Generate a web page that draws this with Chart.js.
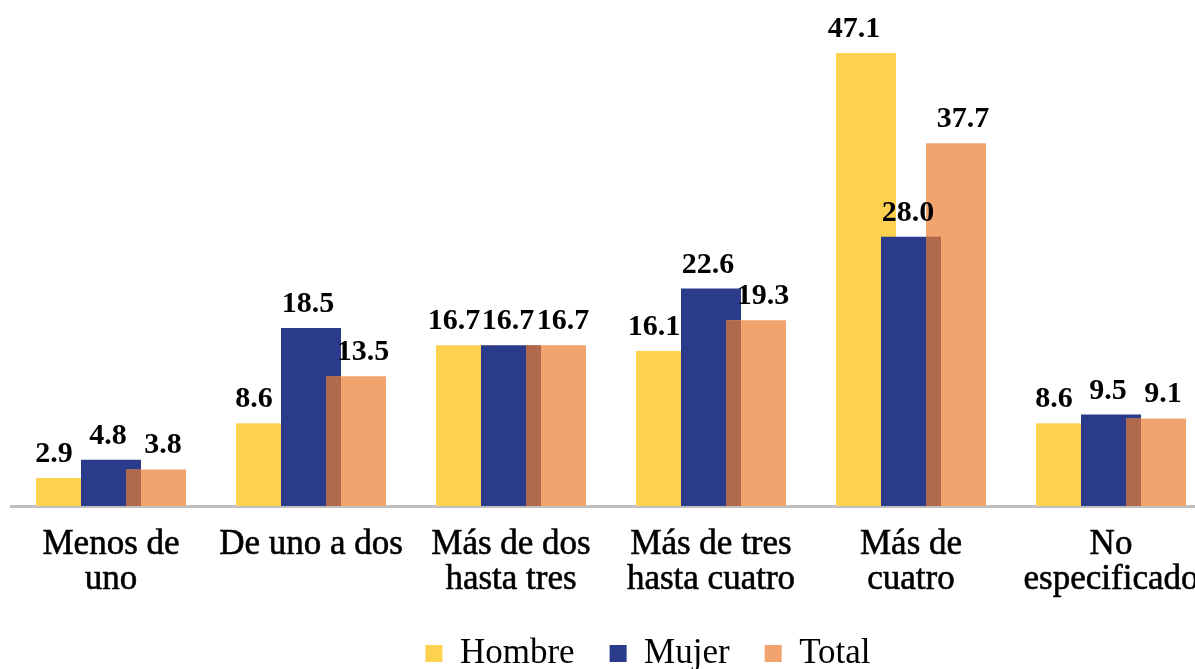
<!DOCTYPE html>
<html>
<head>
<meta charset="utf-8">
<script src="https://cdn.jsdelivr.net/npm/chart.js@4.4.1/dist/chart.umd.min.js"></script>
<style>
  html, body { margin: 0; padding: 0; background: #fff; overflow: hidden; }
  #wrap { width: 1195px; height: 669px; overflow: hidden; }
  canvas { display: block; }
</style>
</head>
<body>
<div id="wrap"><canvas id="myChart" width="1222" height="681"></canvas></div>
<script>
// categories and values
const categories = [
    ['Menos de', 'uno'],
    'De uno a dos',
    ['Más de dos', 'hasta tres'],
    ['Más de tres', 'hasta cuatro'],
    ['Más de', 'cuatro'],
    ['No', 'especificado']
];
const hombre = [2.9, 8.6, 16.7, 16.1, 47.1, 8.6];
const mujer  = [4.8, 18.5, 16.7, 22.6, 28.0, 9.5];
const total  = [3.8, 13.5, 16.7, 19.3, 37.7, 9.1];

const labelNudge = [-12, -3, 7];   // small sideways shift of value labels per series

// draw Hombre first, then Mujer, then Total, and darken where Total covers Mujer
const drawOrder = {
    id: 'drawOrder',
    beforeDatasetsDraw(chart) {
        const ctx = chart.ctx;
        [0, 1, 2].forEach(i => chart.getDatasetMeta(i).controller.draw());
        const m = chart.getDatasetMeta(1).data;
        const t = chart.getDatasetMeta(2).data;
        ctx.save();
        ctx.fillStyle = '#B0694A';
        t.forEach((bar, j) => {
            const left = bar.x - bar.width / 2;
            const right = m[j].x + m[j].width / 2;
            const top = Math.max(bar.y, m[j].y);
            if (right > left) ctx.fillRect(left, top, right - left, bar.base - top);
        });
        ctx.restore();
        return false;
    },
    afterDraw(chart) {
        const ctx = chart.ctx;
        ctx.save();
        ctx.font = 'bold 30px "Liberation Serif"';
        ctx.fillStyle = '#000';
        ctx.textAlign = 'center';
        ctx.textBaseline = 'alphabetic';
        chart.data.datasets.forEach((ds, i) => {
            chart.getDatasetMeta(i).data.forEach((bar, j) => {
                ctx.fillText(ds.data[j].toFixed(1), bar.x + labelNudge[i], bar.y - 16);
            });
        });
        ctx.restore();
    }
};

// legend sits a bit right of the plot centre in the original
const legendShift = {
    id: 'legendShift',
    afterLayout(chart) {
        chart.legend.left += 37;
        chart.legend.right += 37;
    }
};

const ctx = document.getElementById('myChart');

new Chart(ctx, {
    type: 'bar',
    data: {
        labels: categories,
        datasets: [
            { label: 'Hombre', data: hombre, backgroundColor: '#FED24F' },
            { label: 'Mujer', data: mujer, backgroundColor: '#2B3B8B' },
            { label: 'Total', data: total, backgroundColor: '#F2A46F' }
        ]
    },
    options: {
        responsive: false,
        animation: false,
        devicePixelRatio: 1,
        categoryPercentage: 0.675,
        barPercentage: 1.333,
        layout: { padding: { left: 11, right: 11, top: 25, bottom: 0 } },
        scales: {
            x: {
                grid: { display: false, drawTicks: false, tickLength: 0 },
                border: { display: true, color: '#BFBFBF', width: 3 },
                ticks: {
                    color: '#000',
                    padding: 21,
                    maxRotation: 0,
                    autoSkip: false,
                    textStrokeColor: '#000',
                    textStrokeWidth: 0.6,
                    font: { family: '"Liberation Serif"', size: 35, lineHeight: 1 }
                },
                afterFit(scale) { scale.height = 95; }
            },
            y: {
                display: false,
                min: 0,
                max: 50
            }
        },
        plugins: {
            tooltip: { enabled: false },
            legend: {
                position: 'bottom',
                labels: {
                    boxWidth: 17,
                    boxHeight: 17,
                    padding: 35,
                    color: '#000',
                    font: { family: '"Liberation Serif"', size: 35 }
                }
            }
        }
    },
    plugins: [drawOrder, legendShift]
});
</script>
</body>
</html>
